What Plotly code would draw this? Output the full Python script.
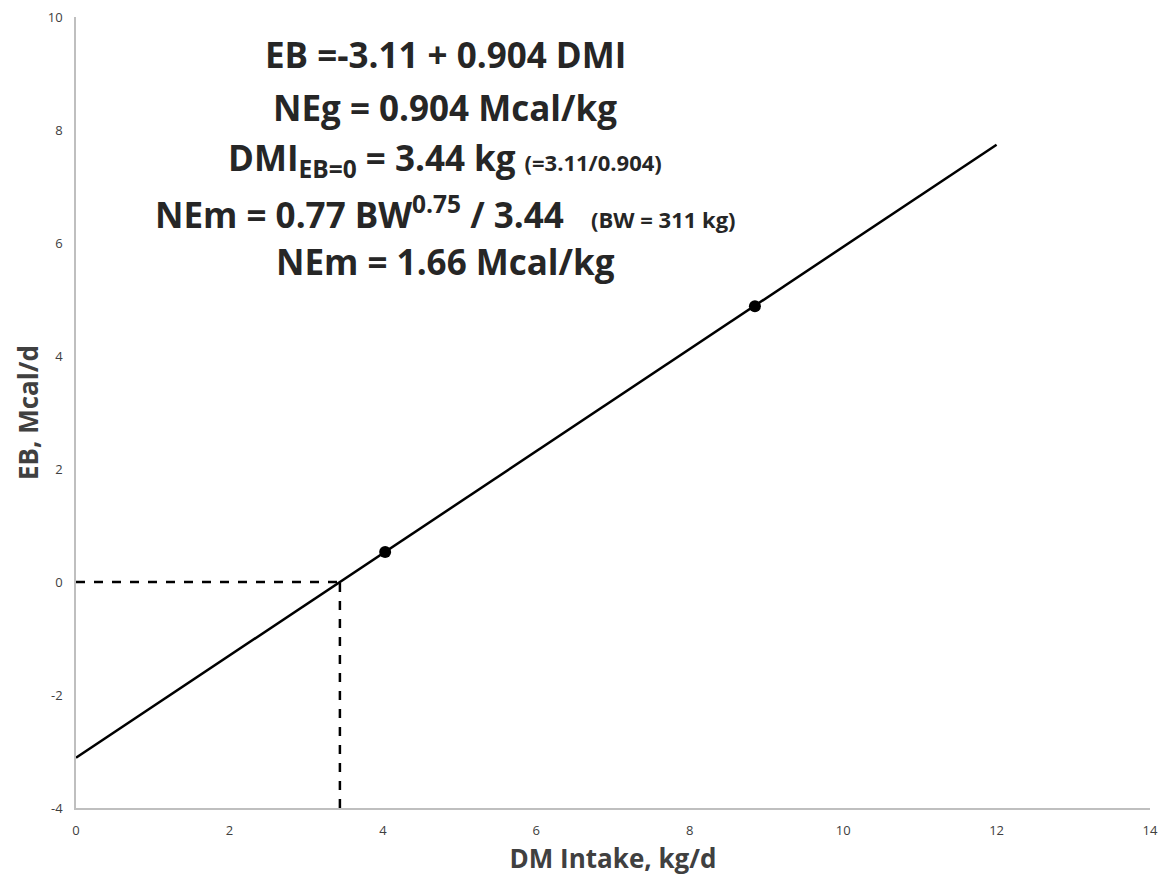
import plotly.graph_objects as go

# Data
line_x = [0, 12]
line_y = [-3.11, 7.74]
obs_x = [4.03, 8.85]
obs_y = [0.53, 4.88]
hdash_x = [0, 3.44]
hdash_y = [0, 0]
vdash_x = [3.44, 3.44]
vdash_y = [-4, 0]
x_ticks = [0, 2, 4, 6, 8, 10, 12, 14]
y_ticks = [-4, -2, 0, 2, 4, 6, 8, 10]
y_ticktext = ["-4", "-2", "0", "2", "4", "6", "8", "10"]

FONT = "Open Sans"

fig = go.Figure()
fig.add_trace(go.Scatter(x=line_x, y=line_y, mode="lines",
                         line=dict(color="black", width=2.5), showlegend=False))
fig.add_trace(go.Scatter(x=hdash_x, y=hdash_y, mode="lines",
                         line=dict(color="black", width=2.5, dash="dash"), showlegend=False))
fig.add_trace(go.Scatter(x=vdash_x, y=vdash_y, mode="lines",
                         line=dict(color="black", width=2.5, dash="dash"), showlegend=False))
fig.add_trace(go.Scatter(x=obs_x, y=obs_y, mode="markers",
                         marker=dict(color="black", size=12), showlegend=False))

lines = [
    ("EB =-3.11 + 0.904 DMI", 55),
    ("NEg = 0.904 Mcal/kg", 108),
    ("DMI<sub>EB=0</sub> = 3.44 kg <span style='font-size:22px'>(=3.11/0.904)</span>", 160),
    ("NEm = 0.77 BW<sup>0.75</sup> / 3.44   <span style='font-size:22px'>(BW = 311 kg)</span>", 212),
    ("NEm = 1.66 Mcal/kg", 261),
]
for txt, ypx in lines:
    fig.add_annotation(text="<b>" + txt + "</b>", xref="paper", yref="paper",
                       x=(445 - 76) / (1150 - 76), y=1 - (ypx - 17) / (808 - 17),
                       showarrow=False, xanchor="center", yanchor="middle",
                       font=dict(family=FONT, size=35, color="#262626"))

fig.update_layout(
    width=1161, height=878,
    margin=dict(l=76, r=11, t=17, b=70, autoexpand=False),
    plot_bgcolor="white", paper_bgcolor="white",
    font=dict(family=FONT, color="#595959"),
    xaxis=dict(range=[0, 14], tickvals=x_ticks, showgrid=False, zeroline=False,
               showline=True, linecolor="#bfbfbf", linewidth=1.5, ticks="",
               automargin=False, ticklabelstandoff=10,
               tickfont=dict(size=13, color="#404040"),
               title=dict(text="<b>DM Intake, kg/d</b>", font=dict(size=26, color="#404040"), standoff=11)),
    yaxis=dict(range=[-4, 10], tickvals=y_ticks, ticktext=y_ticktext, showgrid=False, zeroline=False,
               showline=True, linecolor="#bfbfbf", linewidth=1.5, ticks="",
               automargin=False, ticklabelstandoff=9,
               tickfont=dict(size=13, color="#404040"),
               title=dict(text="<b>EB, Mcal/d</b>", font=dict(size=26, color="#404040"), standoff=2)),
)

fig.write_html("out.html")
